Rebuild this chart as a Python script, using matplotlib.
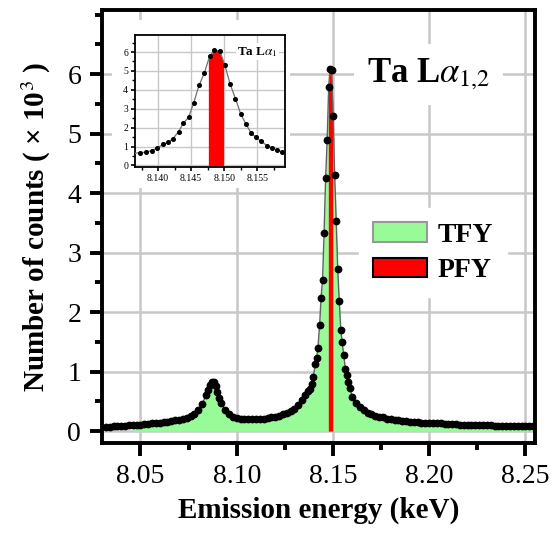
import numpy as np
import matplotlib.pyplot as plt
from matplotlib.patches import Patch, Rectangle
from matplotlib.ticker import MultipleLocator, FormatStrFormatter

plt.rcParams['font.family'] = ['Liberation Serif', 'DejaVu Serif']
plt.rcParams['mathtext.fontset'] = 'stix'

## spectrum: energy in keV, counts in units of 10^3
left_energy = [8.032, 8.034, 8.036, 8.038, 8.040, 8.042, 8.044, 8.046, 8.048, 8.050,
               8.052, 8.054, 8.056, 8.058, 8.060, 8.062, 8.064, 8.066, 8.068, 8.070,
               8.072, 8.074, 8.076, 8.078, 8.080, 8.082, 8.084, 8.085, 8.086, 8.087,
               8.088, 8.089, 8.090, 8.091, 8.092, 8.094, 8.096, 8.098, 8.100, 8.102,
               8.104, 8.106, 8.108, 8.110, 8.112, 8.114, 8.116, 8.118, 8.120, 8.122,
               8.124, 8.126, 8.128, 8.130, 8.132, 8.134, 8.1356]
left_counts = [0.07, 0.07, 0.08, 0.08, 0.09, 0.08, 0.10, 0.10, 0.11, 0.11,
               0.12, 0.12, 0.13, 0.14, 0.14, 0.15, 0.16, 0.17, 0.18, 0.19,
               0.20, 0.22, 0.25, 0.29, 0.35, 0.45, 0.60, 0.69, 0.77, 0.83,
               0.82, 0.76, 0.66, 0.56, 0.47, 0.35, 0.28, 0.24, 0.22, 0.21,
               0.20, 0.20, 0.20, 0.20, 0.21, 0.21, 0.22, 0.23, 0.24, 0.26,
               0.28, 0.30, 0.33, 0.38, 0.44, 0.52, 0.60]

peak_energy = [8.1372, 8.1381, 8.1390, 8.1398, 8.1408, 8.1415, 8.1422, 8.1431, 8.1438, 8.1446,
               8.1454, 8.1462, 8.1470, 8.1478, 8.1485, 8.1493, 8.1501, 8.1509, 8.1517, 8.1525,
               8.1533, 8.1541, 8.1548, 8.1556, 8.1565, 8.1572, 8.1580, 8.1588]
peak_counts = [0.68, 0.70, 0.79, 0.91, 1.12, 1.23, 1.40, 1.79, 2.23, 2.54,
               3.33, 4.25, 4.89, 5.79, 6.09, 6.07, 5.30, 4.30, 3.54, 2.72,
               2.18, 1.70, 1.49, 1.28, 1.04, 0.95, 0.82, 0.72]

right_energy = [8.160, 8.162, 8.164, 8.166, 8.168, 8.170, 8.172, 8.174, 8.176, 8.178,
                8.180, 8.182, 8.184, 8.186, 8.188, 8.190, 8.192, 8.194, 8.196, 8.198,
                8.200, 8.202, 8.204, 8.206, 8.208, 8.210, 8.212, 8.214, 8.216, 8.218,
                8.220, 8.222, 8.224, 8.226, 8.228, 8.230, 8.232, 8.234, 8.236, 8.238,
                8.240, 8.242, 8.244, 8.246, 8.248, 8.250, 8.252, 8.254]
right_counts = [0.58, 0.47, 0.40, 0.35, 0.31, 0.28, 0.26, 0.24, 0.23, 0.21,
                0.20, 0.19, 0.18, 0.17, 0.17, 0.16, 0.15, 0.15, 0.14, 0.14,
                0.14, 0.13, 0.13, 0.13, 0.12, 0.12, 0.12, 0.12, 0.11, 0.11,
                0.11, 0.11, 0.10, 0.10, 0.10, 0.10, 0.10, 0.09, 0.09, 0.09,
                0.09, 0.09, 0.09, 0.08, 0.08, 0.08, 0.08, 0.08]

tfy_start = 8.046
pfy_window = (8.1476, 8.1499)

x_ticks = [8.05, 8.10, 8.15, 8.20, 8.25]
y_ticks = [0, 1, 2, 3, 4, 5, 6]
inset_x_ticks = [8.140, 8.145, 8.150, 8.155]

energy = np.array(left_energy + peak_energy + right_energy)
counts = np.array(left_counts + peak_counts + right_counts)

## PFY strip: edges of the window taken on the measured curve
lo, hi = pfy_window
inside = (energy > lo) & (energy < hi)
pfy_x = np.concatenate([[lo], energy[inside], [hi]])
pfy_y = np.interp(pfy_x, energy, counts)

green = '#98fb98'
grid_col = '#c8c8c8'

fig = plt.figure(figsize=(5.53, 5.40), dpi=100)
ax = fig.add_axes([102/553, 1 - 443/540, 433/553, 433/540])

tfy = energy >= tfy_start
ax.fill_between(energy[tfy], 0, counts[tfy], color=green, lw=0, zorder=2)
ax.fill_between(pfy_x, 0, pfy_y, color='red', lw=0, zorder=3)
ax.plot(energy, counts, color='#606060', lw=1, zorder=4)
ax.plot(energy, counts, 'o', color='black', ms=4.6, zorder=5)

ax.set_xlim(8.030, 8.255)
ax.set_ylim(-0.2, 7.08)
ax.set_xticks(x_ticks)
ax.set_yticks(y_ticks)
ax.xaxis.set_major_formatter(FormatStrFormatter('%.2f'))
ax.xaxis.set_minor_locator(MultipleLocator(0.025))
ax.yaxis.set_minor_locator(MultipleLocator(0.5))
ax.grid(True, which='major', color=grid_col, lw=1.8)
ax.set_axisbelow(True)
for s in ax.spines.values():
    s.set_linewidth(2.8)
ax.tick_params(which='major', length=9, width=2.8, labelsize=20, pad=6)
ax.tick_params(which='minor', length=5, width=2.8)
ax.set_xlabel('Emission energy (keV)', fontsize=21, fontweight='bold', labelpad=6)
ax.set_ylabel('Number of counts ( × 10$^{3}$ )', fontsize=21, fontweight='bold', labelpad=10)

ax.text(0.612, 0.834, 'Ta L$\\alpha_{1{,}2}$', transform=ax.transAxes, fontsize=25,
        fontweight='bold', va='baseline', zorder=6,
        bbox=dict(facecolor='white', edgecolor='none', pad=9))

handles = [Patch(facecolor=green, edgecolor='#999999', lw=1.5, label='TFY'),
           Patch(facecolor='red', edgecolor='black', lw=1.5, label='PFY')]
leg = ax.legend(handles=handles, loc='upper left', bbox_to_anchor=(0.561, 0.574),
                frameon=True, fancybox=False, framealpha=1, edgecolor='white',
                prop=dict(family='Liberation Serif', weight='bold', size=20),
                handlelength=1.95, handleheight=0.72, handletextpad=0.4,
                labelspacing=0.35, borderpad=0.5)
leg.set_zorder(6)

## white area behind the inset and its labels
ax.add_patch(Rectangle((112/553, 1 - 188/540), 178/553, 168/540, transform=fig.transFigure,
                       facecolor='white', edgecolor='none', zorder=1))

ins = fig.add_axes([135/553, 1 - 167/540, 150/553, 132/540])
ins.fill_between(pfy_x, 0, pfy_y, color='red', lw=0, zorder=2)
ins.plot(energy, counts, color='#707070', lw=0.9, zorder=3)
ins.plot(energy, counts, 'o', color='black', ms=2.6, zorder=4)
ins.set_xlim(8.1365, 8.1592)
ins.set_ylim(-0.08, 6.9)
ins.set_xticks(inset_x_ticks)
ins.set_yticks(y_ticks)
ins.xaxis.set_major_formatter(FormatStrFormatter('%.3f'))
ins.xaxis.set_minor_locator(MultipleLocator(0.0025))
ins.yaxis.set_minor_locator(MultipleLocator(0.5))
ins.grid(True, which='major', color=grid_col, lw=1)
ins.set_axisbelow(True)
for s in ins.spines.values():
    s.set_linewidth(1.3)
ins.tick_params(which='major', length=3, width=1.2, labelsize=7, pad=2)
ins.tick_params(which='minor', length=2, width=1)
ins.text(0.68, 0.85, 'Ta L$\\alpha_{1}$', transform=ins.transAxes, fontsize=9.5,
         fontweight='bold', zorder=5,
         bbox=dict(facecolor='white', edgecolor='none', pad=1))

fig.savefig('out.png', dpi=100)
